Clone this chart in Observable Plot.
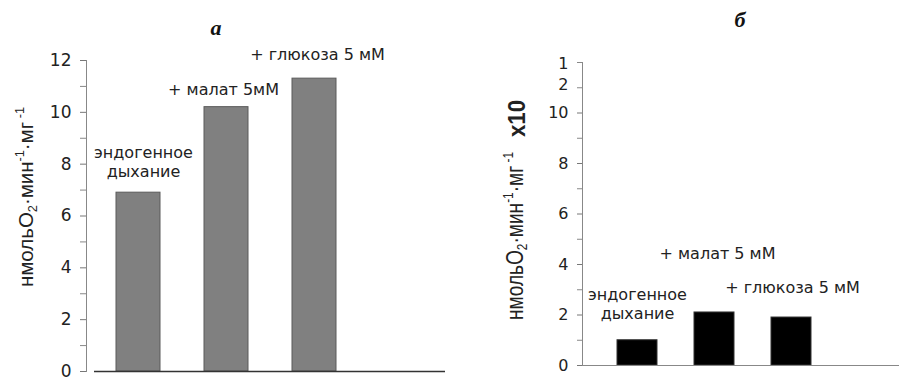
<!DOCTYPE html>
<html>
<head>
<meta charset="utf-8">
<script src="https://cdn.jsdelivr.net/npm/d3@7"></script>
<script src="https://cdn.jsdelivr.net/npm/@observablehq/plot@0.6"></script>
<style>
  html, body { margin: 0; padding: 0; background: #fff; }
  #wrap { position: relative; width: 899px; height: 378px; overflow: hidden; }
  #wrap > svg { position: absolute; top: 0; }
</style>
</head>
<body>
<div id="wrap"></div>
<script>
// Panel а: respiration rate of the preparation
const categoriesA = ["эндогенное дыхание", "+ малат 5мМ", "+ глюкоза 5 мМ"];
const valuesA = [6.9, 10.2, 11.3];
const labelsA = ["эндогенное\nдыхание", "+ малат 5мМ", "+ глюкоза 5 мМ"];

// Panel б: same substrates, values ×10
const categoriesB = ["эндогенное дыхание", "+ малат 5 мМ", "+ глюкоза 5 мМ"];
const valuesB = [1.0, 2.1, 1.9];
const labelsB = ["эндогенное\nдыхание", "+ малат 5 мМ", "+ глюкоза 5 мМ"];

const majorTicks = [0, 2, 4, 6, 8, 10, 12];
const minorTicks = [1, 3, 5, 7, 9, 11];

const font = "'DejaVu Sans', sans-serif";
const labelFont = "'Liberation Sans', Arial, sans-serif";
const wrap = document.getElementById("wrap");

function rows(cats, vals, labels) {
  return cats.map((c, i) => ({cat: c, value: vals[i], label: labels[i]}));
}

// one text mark per bar label so each can sit at its own offset
function barLabel(row, dx, dy, size) {
  return Plot.text([row], {
    x: "cat", y: "value", text: "label",
    dx, dy, fontSize: size, fill: "#222", lineHeight: 1.2
  });
}

// Vertical text reading bottom-to-top, fitted between yBottom and yTop,
// baseline at x; sy widens the glyphs across the line.
// The svg must already be in the document so the text can be measured.
function verticalText(svg, build, {x, yBottom, yTop, sy, size, weight = "normal"}) {
  const t = d3.select(svg).append("text")
    .attr("text-anchor", "start")
    .attr("font-family", labelFont)
    .attr("font-size", size)
    .attr("font-weight", weight)
    .attr("fill", "#222");
  build(t, size);
  const w = t.node().getComputedTextLength() || 1;
  const sx = (yBottom - yTop) / w;
  t.attr("transform", `translate(${x},${yBottom}) rotate(-90) scale(${sx},${sy})`);
  return t;
}

function unitsLabel(t, size) {
  const sup = size * 0.62;
  t.append("tspan").text("нмольO");
  t.append("tspan").attr("font-size", sup).attr("dy", 3).text("2");
  t.append("tspan").attr("dy", -3).text("·мин");
  t.append("tspan").attr("font-size", sup).attr("dy", -7).text("-1");
  t.append("tspan").attr("dy", 7).text("·мг");
  t.append("tspan").attr("font-size", sup).attr("dy", -7).text(" -1");
}

function panelTitle(svg, x, y, txt) {
  d3.select(svg).append("text")
    .attr("x", x).attr("y", y)
    .attr("text-anchor", "middle")
    .attr("font-family", "'Liberation Serif', 'Times New Roman', serif")
    .attr("font-style", "italic").attr("font-weight", "bold")
    .attr("font-size", 22).attr("fill", "#111")
    .text(txt);
}

// ---- panel а ----
const dataA = rows(categoriesA, valuesA, labelsA);
const chartA = Plot.plot({
  width: 450, height: 378,
  marginTop: 60, marginBottom: 7, marginLeft: 94, marginRight: 5,
  style: {fontFamily: font, background: "transparent", color: "#222"},
  x: {domain: categoriesA, range: [94, 358], paddingInner: 0.5, paddingOuter: 0.25, axis: null},
  y: {domain: [0, 12], axis: null},
  marks: [
    Plot.frame({anchor: "left", dx: -8, stroke: "#888"}),
    Plot.axisY({ticks: majorTicks, label: null, tickSize: 6, tickPadding: 9, dx: -8, fontSize: 17, stroke: "#777", fill: "#222"}),
    Plot.axisY({ticks: minorTicks, label: null, tickSize: 6, tickFormat: () => "", dx: -8, stroke: "#888"}),
    Plot.barY(dataA, {x: "cat", y: "value", fill: "#808080", stroke: "#5a5a5a", strokeWidth: 1}),
    Plot.ruleY([0], {stroke: "#333", strokeWidth: 1.5}),
    barLabel(dataA[0], 5, -31, 16),
    barLabel(dataA[1], -3, -18, 16),
    barLabel(dataA[2], 3, -25, 16)
  ]
});
chartA.style.left = "0px";
wrap.appendChild(chartA);
verticalText(chartA, unitsLabel, {x: 33, yBottom: 287, yTop: 107, sy: 1.3, size: 16});
panelTitle(chartA, 216, 35, "а");

// ---- panel б ----
const dataB = rows(categoriesB, valuesB, labelsB);
const chartB = Plot.plot({
  width: 449, height: 378,
  marginTop: 62, marginBottom: 13, marginLeft: 132, marginRight: 0,
  style: {fontFamily: font, background: "transparent", color: "#222"},
  x: {domain: categoriesB, range: [132, 397], paddingInner: 0.48, paddingOuter: 0.45, axis: null},
  y: {domain: [0, 12], axis: null},
  marks: [
    Plot.frame({anchor: "left", stroke: "#888"}),
    Plot.axisY({ticks: majorTicks.filter(d => d !== 12), label: null, tickSize: 5, tickPadding: 9, fontSize: 16, stroke: "#777", fill: "#222"}),
    Plot.axisY({ticks: minorTicks.concat([12]), label: null, tickSize: 5, tickFormat: () => "", stroke: "#888"}),
    // the top tick label is broken over two lines
    Plot.text([12], {y: d => d, text: () => "1\n2", frameAnchor: "left", textAnchor: "end",
      dx: -14, dy: 10.5, fontSize: 16, lineHeight: 1.3, fill: "#222"}),
    Plot.barY(dataB, {x: "cat", y: "value", fill: "#000", stroke: "#333"}),
    Plot.ruleY([0], {stroke: "#888", strokeWidth: 1}),
    barLabel(dataB[0], 0, -37, 16),
    barLabel(dataB[1], 3, -60, 16),
    barLabel(dataB[2], 1, -31, 16)
  ]
});
chartB.style.left = "450px";
wrap.appendChild(chartB);
verticalText(chartB, unitsLabel, {x: 73, yBottom: 320, yTop: 152, sy: 1.45, size: 16});
verticalText(chartB, (t) => t.text("x10"), {x: 75, yBottom: 137, yTop: 100, sy: 1.45, size: 16, weight: "bold"});
panelTitle(chartB, 290, 27, "б");
</script>
</body>
</html>
